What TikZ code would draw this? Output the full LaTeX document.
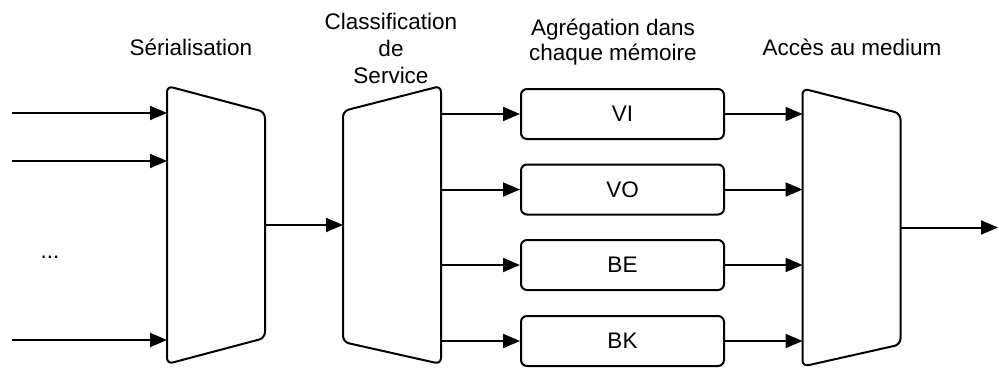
\documentclass[tikz,border=0pt]{standalone}
\usepackage{fontspec}
\setmainfont{Liberation Sans}
\usetikzlibrary{arrows.meta,positioning,calc}

\begin{document}
\begin{tikzpicture}[x=1pt,y=-1pt,line width=2pt,
    lbl/.style={font=\fontsize{22.5}{27}\selectfont, align=center, inner sep=0pt},
    frame/.style={minimum width=96pt, minimum height=276pt, inner sep=0pt},
    queue/.style={draw, rounded corners=6pt, minimum width=203pt, minimum height=50pt,
                  inner sep=0pt, font=\fontsize{22.5}{27}\selectfont},
    arr/.style={-{Triangle[length=17pt,width=14pt]}}]
    \useasboundingbox (0,0) rectangle (999,367);
    % les trois blocs trapezes
    \node[frame] (ser) at (216,225) {};
    \node[frame] (cls) at (392,225) {};
    \node[frame] (acc) at (851.5,227.5) {};
    \draw[rounded corners=6pt] (ser.north west) -- ($(ser.north east)+(0,26)$)
        -- ($(ser.south east)+(0,-26)$) -- (ser.south west) -- cycle;
    \draw[rounded corners=6pt] ($(cls.north west)+(0,25)$) -- (cls.north east)
        -- (cls.south east) -- ($(cls.south west)+(0,-22)$) -- cycle;
    \draw[rounded corners=6pt] (acc.north west) -- ($(acc.north east)+(0,25)$)
        -- ($(acc.south east)+(0,-22)$) -- (acc.south west) -- cycle;
    % files d'attente
    \node[queue] (vi) at (622.5,114) {VI};
    \node[queue] (vo) at (622.5,189.5) {VO};
    \node[queue] (be) at (622.5,265) {BE};
    \node[queue] (bk) at (622.5,341) {BK};
    % titres
    \node[lbl] (serlbl) at (191,47) {Sérialisation};
    \node[lbl] (clslbl) at (391,48) {Classification\\de\\Service};
    \node[lbl, font=\fontsize{22.5}{25}\selectfont] (agglbl) at (613,42) {Agrégation dans\\chaque mémoire};
    \node[lbl] (acclbl) at (852,47) {Accès au medium};
    \node[lbl] (dots) at (50,257) {...};
    % fleches
    \coordinate (in1) at (12,113);
    \coordinate (in2) at (12,161);
    \coordinate (in3) at (12,340);
    \coordinate (out) at (998,227.5);
    \draw[arr] (in1) -- (in1 -| ser.west);
    \draw[arr] (in2) -- (in2 -| ser.west);
    \draw[arr] (in3) -- (in3 -| ser.west);
    \draw[arr] (ser.east) -- (ser.east -| cls.west);
    \foreach \q in {vi,vo,be,bk}{
        \draw[arr] (\q.west -| cls.east) -- (\q.west);
        \draw[arr] (\q.east) -- (\q.east -| acc.west);
    }
    \draw[arr] (acc.east) -- (out);
\end{tikzpicture}
\end{document}
